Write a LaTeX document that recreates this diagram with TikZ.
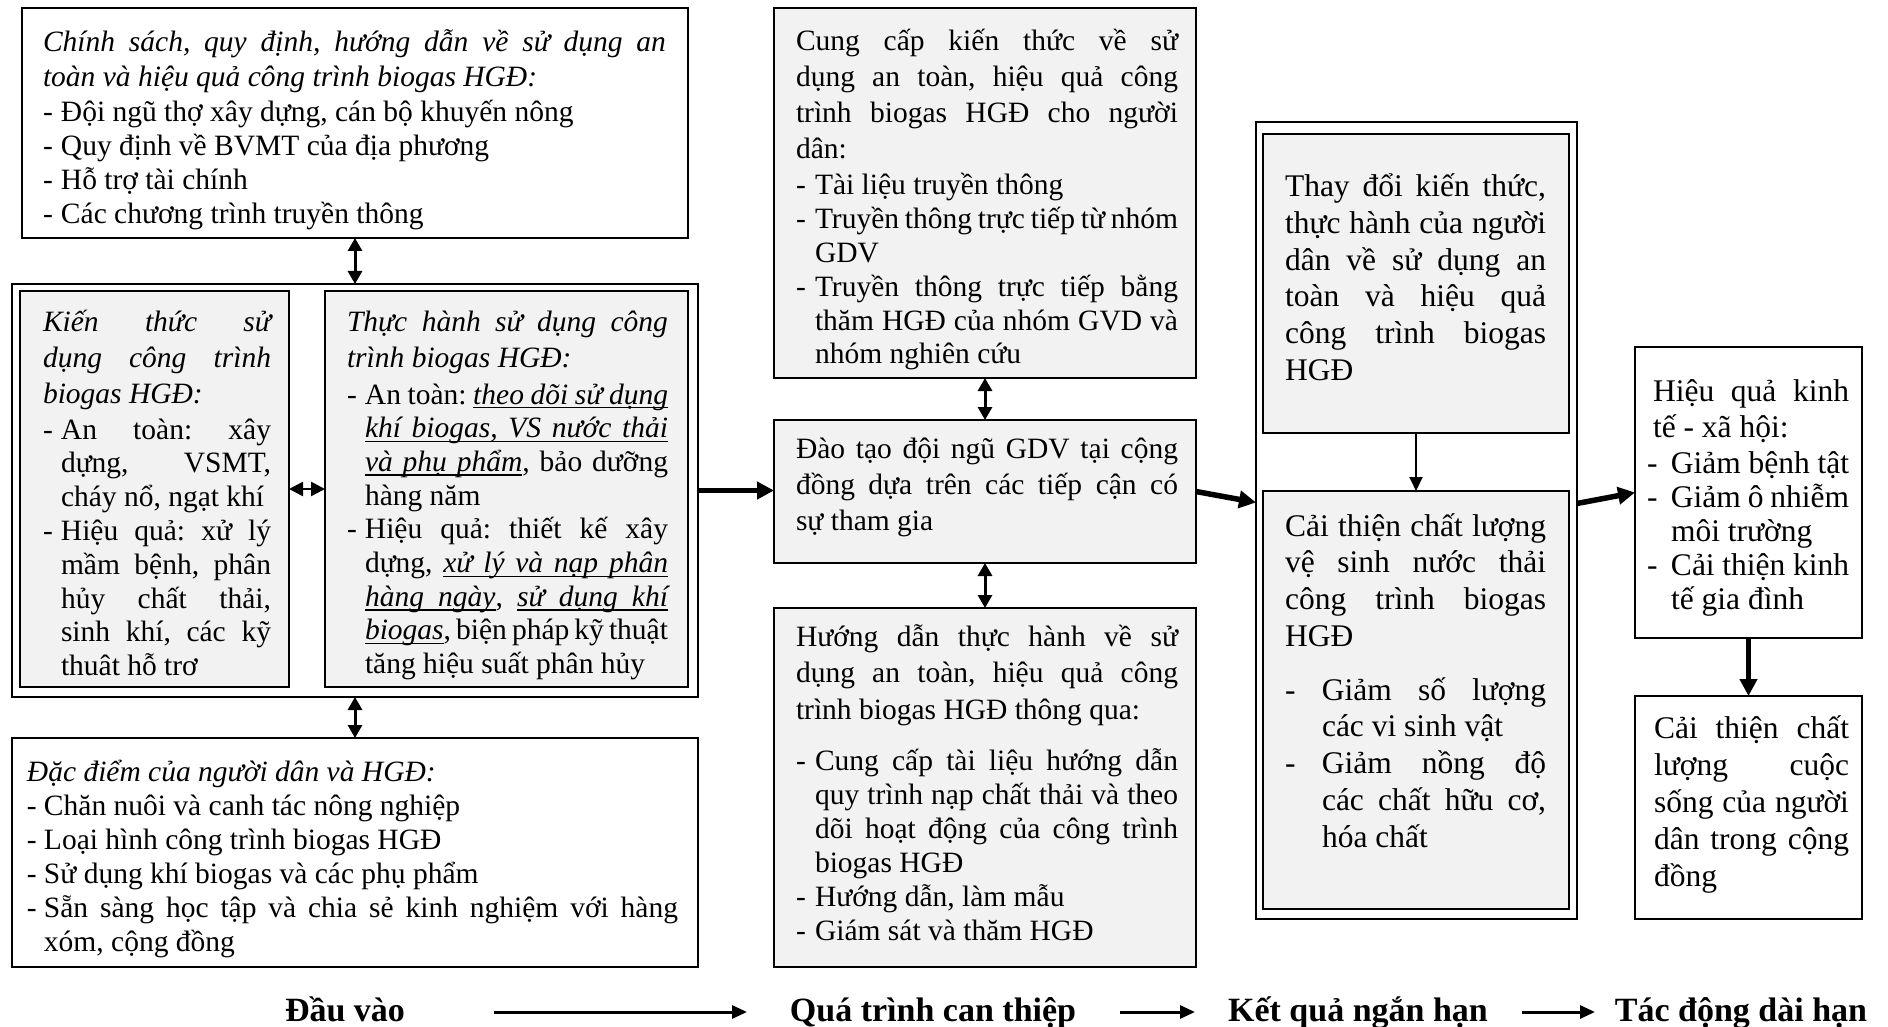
\documentclass[tikz,border=0pt]{standalone}
\usepackage{fontspec}
\setmainfont{Liberation Serif}
\usetikzlibrary{arrows.meta}

\definecolor{boxgray}{HTML}{F2F2F2}

% line builders for the framed texts
\newlength\dashw
\newcommand\jl[1]{\hbox to\hsize{#1}}
\newcommand\rl[1]{\hbox to\hsize{#1\hfil}}
\newcommand\jd[1]{\hbox to\hsize{\hbox to\dashw{-\hfil}#1}}
\newcommand\rd[1]{\hbox to\hsize{\hbox to\dashw{-\hfil}#1\hfil}}
\newcommand\ji[1]{\hbox to\hsize{\hskip\dashw #1}}
\newcommand\ri[1]{\hbox to\hsize{\hskip\dashw #1\hfil}}
\newcommand\bs[1]{\baselineskip=#1pt\relax}
\newcommand\tbox[3]{\vtop{\hsize=#1pt\relax\dashw=#2pt\relax
  \lineskiplimit=-1000pt\relax\parindent=0pt\relax\frenchspacing #3}}
\hbadness=10000 \hfuzz=20pt

% underlined italic words, with stretchable underlined spaces between them
\newcommand\uw[1]{\setbox0\hbox{\itshape #1}%
  \rlap{\vrule width\wd0 height -3pt depth 4.4pt}\box0}
\newcommand\us{\leaders\hrule height -3pt depth 4.4pt
  \hskip\fontdimen2\font plus\fontdimen3\font minus\fontdimen4\font}
\def\ulit#1{\ulitA#1 \ulitend}
\def\ulitA#1 #2\ulitend{\uw{#1}\if\relax\detokenize{#2}\relax\else\us\ulitA#2\ulitend\fi}

\begin{document}
\begin{tikzpicture}[x=1pt,y=-1pt,
  box/.style={draw=black, line width=2pt, inner sep=0pt, outer sep=0pt, anchor=north west},
  graybox/.style={box, fill=boxgray},
  txt/.style={anchor=base west, inner sep=0pt, outer sep=0pt, font=\fontsize{29.5}{34}\selectfont},
  txtb/.style={txt, font=\fontsize{31.5}{36.8}\selectfont},
  lbl/.style={anchor=base, inner sep=0pt, font=\fontsize{34}{40}\selectfont\bfseries},
  bigarrow/.style={line width=5.5pt, -{Triangle[length=17pt,width=17pt]}},
  twoway/.style={line width=3pt, {Triangle[length=13pt,width=14pt]}-{Triangle[length=13pt,width=14pt]}},
  twowaysmall/.style={line width=2.5pt, {Triangle[length=14pt,width=14pt]}-{Triangle[length=14pt,width=14pt]}},
  onearrow/.style={line width=2pt, -{Triangle[length=14pt,width=13pt]}},
  flow/.style={line width=3pt, -{Triangle[length=15pt,width=13pt]}}
]
\fill[white] (0,0) rectangle (1888,1027);
\useasboundingbox (0,0) rectangle (1888,1027);

% ---------- inputs ----------
\node[box, minimum width=666pt, minimum height=230pt] (pol) at (22,8) {};
\node[box, minimum width=686pt, minimum height=413pt] (grp) at (12,284) {};
\node[graybox, minimum width=269pt, minimum height=396pt] (kt) at (20,291) {};
\node[graybox, minimum width=363pt, minimum height=396pt] (th) at (325,291) {};
\node[box, minimum width=686pt, minimum height=229pt] (dd) at (12,738) {};

\node[txt] (polT) at (43,51.5) {\tbox{623}{18}{\bs{35}%
  \jl{\itshape Chính sách, quy định, hướng dẫn về sử dụng an}
  \rl{\itshape toàn và hiệu quả công trình biogas HGĐ:}
  \rd{Đội ngũ thợ xây dựng, cán bộ khuyến nông}
  \bs{34}\rd{Quy định về BVMT của địa phương}
  \rd{Hỗ trợ tài chính}
  \rd{Các chương trình truyền thông}}};

\node[txt] (ktT) at (43,331) {\tbox{228}{18}{\bs{36}%
  \jl{\itshape Kiến thức sử}
  \jl{\itshape dụng công trình}
  \rl{\itshape biogas HGĐ:}
  \jd{An toàn: xây}
  \bs{33.8}\ji{dựng, VSMT,}
  \ri{cháy nổ, ngạt khí}
  \jd{Hiệu quả: xử lý}
  \ji{mầm bệnh, phân}
  \ji{hủy chất thải,}
  \ji{sinh khí, các kỹ}
  \ri{thuât hỗ trơ}}};

\node[txt] (thT) at (347,331) {\tbox{321}{18}{\bs{36}%
  \jl{\itshape Thực hành sử dụng công}
  \rl{\itshape trình biogas HGĐ:}
  \bs{37}\jd{An toàn: \ulit{theo dõi sử dụng}}
  \bs{33.7}\ji{\ulit{khí biogas, VS nước thải}}
  \ji{\ulit{và phụ phẩm}, bảo dưỡng}
  \ri{hàng năm}
  \jd{Hiệu quả: thiết kế xây}
  \ji{dựng, \ulit{xử lý và nạp phân}}
  \ji{\ulit{hàng ngày}, \ulit{sử dụng khí}}
  \ji{\ulit{biogas}, biện pháp kỹ thuật}
  \ri{tăng hiệu suất phân hủy}}};

\node[txt] (ddT) at (27,781) {\tbox{651}{17}{\bs{34.5}%
  \rl{\itshape Đặc điểm của người dân và HGĐ:}
  \rd{Chăn nuôi và canh tác nông nghiệp}
  \bs{34}\rd{Loại hình công trình biogas HGĐ}
  \rd{Sử dụng khí biogas và các phụ phẩm}
  \jd{Sẵn sàng học tập và chia sẻ kinh nghiệm với hàng}
  \ri{xóm, cộng đồng}}};

% ---------- intervention ----------
\node[graybox, minimum width=422pt, minimum height=370pt] (cc) at (774,8) {};
\node[graybox, minimum width=422pt, minimum height=143pt] (dt) at (774,420) {};
\node[graybox, minimum width=422pt, minimum height=359pt] (hd) at (774,608) {};

\node[txt] (ccT) at (796,51) {\tbox{382}{19}{\bs{36}%
  \jl{Cung cấp kiến thức về sử}
  \jl{dụng an toàn, hiệu quả công}
  \jl{trình biogas HGĐ cho người}
  \rl{dân:}
  \rd{Tài liệu truyền thông}
  \bs{33.8}\jd{Truyền thông trực tiếp từ nhóm}
  \ri{GDV}
  \jd{Truyền thông trực tiếp bằng}
  \ji{thăm HGĐ của nhóm GVD và}
  \ri{nhóm nghiên cứu}}};

\node[txt] (dtT) at (796,458) {\tbox{382}{19}{\bs{36}%
  \jl{Đào tạo đội ngũ GDV tại cộng}
  \jl{đồng dựa trên các tiếp cận có}
  \rl{sự tham gia}}};

\node[txt] (hdT) at (796,646) {\tbox{382}{19}{\bs{36.5}%
  \jl{Hướng dẫn thực hành về sử}
  \jl{dụng an toàn, hiệu quả công}
  \rl{trình biogas HGĐ thông qua:}
  \bs{51.5}\jd{Cung cấp tài liệu hướng dẫn}
  \bs{33.9}\ji{quy trình nạp chất thải và theo}
  \ji{dõi hoạt động của công trình}
  \ri{biogas HGĐ}
  \rd{Hướng dẫn, làm mẫu}
  \rd{Giám sát và thăm HGĐ}}};

% ---------- short-term results ----------
\node[box, minimum width=321pt, minimum height=797pt] (rg) at (1256,122) {};
\node[graybox, minimum width=306pt, minimum height=299pt] (td) at (1263,134) {};
\node[graybox, minimum width=306pt, minimum height=418pt] (ct) at (1263,491) {};

\node[txtb] (tdT) at (1285,196.5) {\tbox{261}{37}{\bs{36.8}%
  \jl{Thay đổi kiến thức,}
  \jl{thực hành của người}
  \jl{dân về sử dụng an}
  \jl{toàn và hiệu quả}
  \jl{công trình biogas}
  \rl{HGĐ}}};

\node[txtb] (ctT) at (1285,536) {\tbox{261}{37}{\bs{36.7}%
  \jl{Cải thiện chất lượng}
  \jl{vệ sinh nước thải}
  \jl{công trình biogas}
  \rl{HGĐ}
  \bs{54}\jd{Giảm số lượng}
  \bs{36.8}\ri{các vi sinh vật}
  \jd{Giảm nồng độ}
  \ji{các chất hữu cơ,}
  \ri{hóa chất}}};

% ---------- long-term impact ----------
\node[box, minimum width=227pt, minimum height=291pt] (hq) at (1635,347) {};
\node[box, minimum width=227pt, minimum height=223pt] (cs) at (1635,696) {};

\node[txtb] (hqT) at (1647,401) {\tbox{202}{24}{\bs{36.5}%
  \jl{\hskip6pt Hiệu quả kinh}
  \rl{\hskip6pt tế - xã hội:}
  \bs{36}\rd{Giảm bệnh tật}
  \bs{34}\jd{Giảm ô nhiễm}
  \ri{môi trường}
  \jd{Cải thiện kinh}
  \ri{tế gia đình}}};

\node[txtb] (csT) at (1654,738) {\tbox{195}{0}{\bs{37}%
  \jl{Cải thiện chất}
  \jl{lượng cuộc}
  \jl{sống của người}
  \jl{dân trong cộng}
  \rl{đồng}}};

% ---------- connectors ----------
\draw[twoway] (pol.south) -- (grp.north);
\draw[twoway] (grp.south) -- (dd.north);
\draw[twowaysmall] (kt.east) -- (th.west);
\draw[bigarrow] (grp.east) -- (grp.east -| dt.west);
\draw[twoway] (cc.south) -- (dt.north);
\draw[twoway] (dt.south) -- (hd.north);
\draw[bigarrow] (dt.east) -- ([yshift=18pt]rg.west);
\draw[onearrow] (td.south) -- (ct.north);
\draw[bigarrow] ([yshift=17pt]rg.east) -- (hq.west);
\draw[bigarrow] (hq.south) -- (cs.north);

% ---------- stage labels ----------
\node[lbl] (l1) at (345,1021) {Đầu vào};
\node[lbl] (l2) at (933,1021) {Quá trình can thiệp};
\node[lbl] (l3) at (1358,1021) {Kết quả ngắn hạn};
\node[lbl] (l4) at (1741,1021) {Tác động dài hạn};
\coordinate (f1s) at (494,1012);  \coordinate (f1e) at (747,1012);
\coordinate (f2s) at (1120,1012); \coordinate (f2e) at (1195,1012);
\coordinate (f3s) at (1522,1012); \coordinate (f3e) at (1595,1012);
\draw[flow] (f1s) -- (f1e);
\draw[flow] (f2s) -- (f2e);
\draw[flow] (f3s) -- (f3e);
\end{tikzpicture}
\end{document}
